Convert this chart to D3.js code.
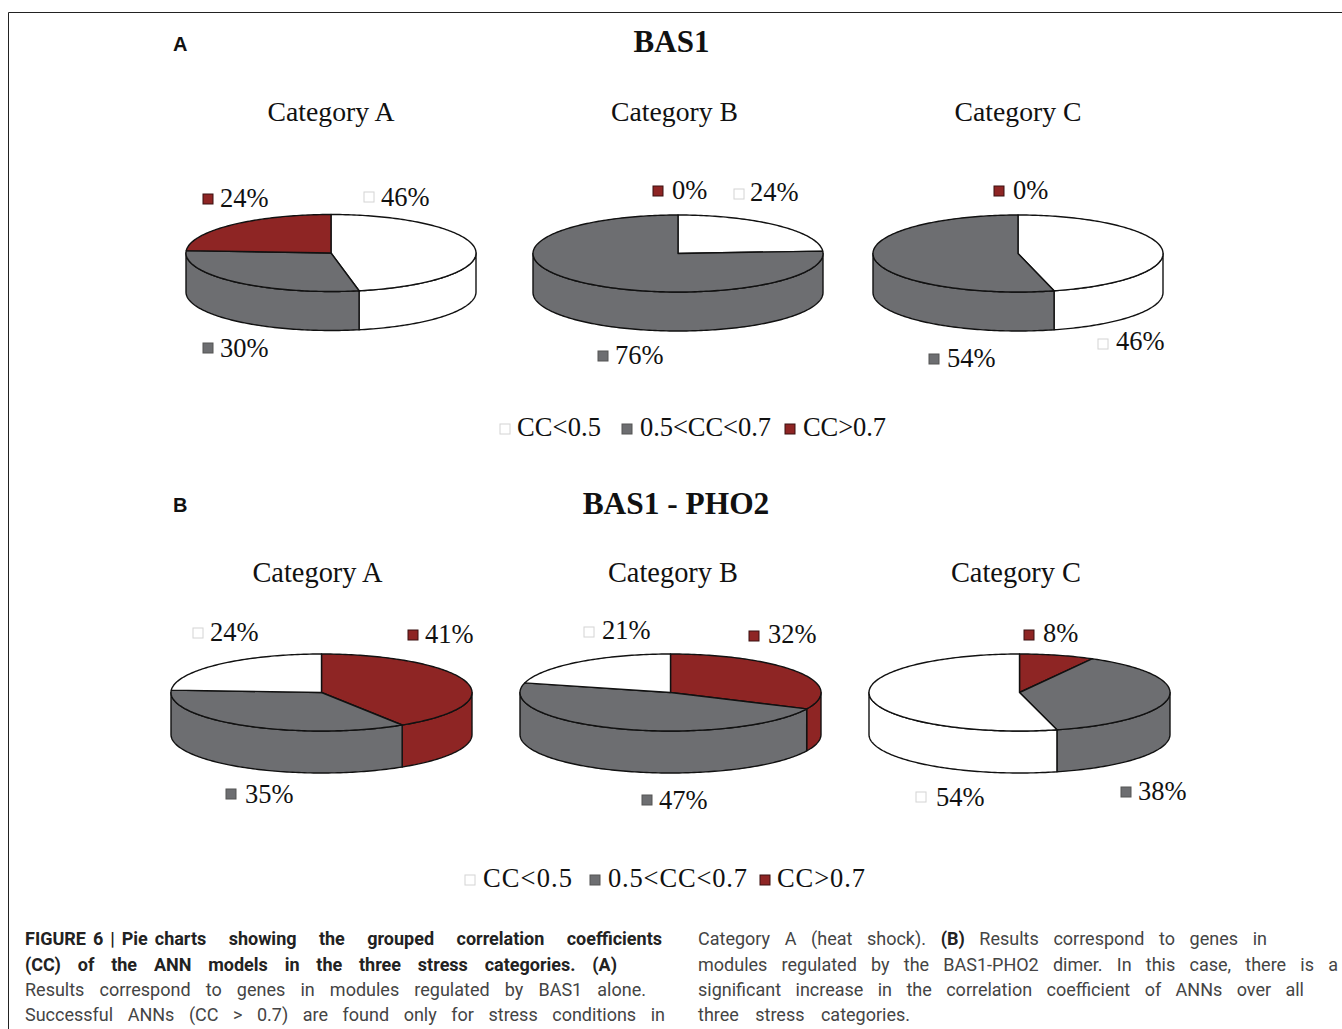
<!DOCTYPE html>
<html><head><meta charset="utf-8">
<script src="https://cdn.jsdelivr.net/npm/d3@7"></script>
<style>html,body{margin:0;padding:0;background:#fff;overflow:hidden}svg{display:block}</style>
</head><body><svg id="c" width="1342" height="1029"></svg>
<script>
// ---- data ----
const classes = ["CC<0.5", "0.5<CC<0.7", "CC>0.7"];
const panelTitles = ["BAS1", "BAS1 - PHO2"];
const panelLetters = ["A", "B"];
const categories = ["Category A", "Category B", "Category C"];
const bas1A = [46, 30, 24];
const bas1ADrawn = [46.9, 29.1, 24];   // slice sizes; the printed labels are rounded differently
const bas1B = [24, 76, 0];
const bas1C = [46, 54, 0];
const phoA = [24, 35, 41];
const phoB = [21, 47, 32];
const phoC = [54, 38, 8];

// ---- layout & style (separate from data) ----
const fills = ["#ffffff", "#6d6e71", "#8e2524"];
const keyStroke = ["#d4d4d4", "#555", "#3a1010"];
const serif = "'Liberation Serif', serif";
const pies = [
  {v: bas1A, s: bas1ADrawn, order: [0,1,2], cx: 331, cy: 253, rx: 145, ry: 38.5, d: 39, cat: 0, catX: 331, catY: 120.5, catSize: 27.7,
   labs: [[369,197,381,206],[208,348,220,357],[208,199,220,207]]},
  {v: bas1B, order: [0,1,2], cx: 678, cy: 253.5, rx: 145, ry: 38.5, d: 39, cat: 1, catX: 674.5, catY: 120.5, catSize: 27.7,
   labs: [[739,194,750,201],[603,356,615,364],[658,191,672,199]]},
  {v: bas1C, order: [0,1,2], cx: 1018, cy: 253.5, rx: 145, ry: 38.5, d: 39, cat: 2, catX: 1018, catY: 120.5, catSize: 27.7,
   labs: [[1103,344,1116,350],[934,359,947,367],[999,191,1013,199]]},
  {v: phoA, order: [2,1,0], cx: 321.5, cy: 692.5, rx: 150.5, ry: 38.5, d: 42, cat: 0, catX: 317.5, catY: 582, catSize: 28.4,
   labs: [[198,633,210,641],[231,794,245,803],[413,635,425,643]]},
  {v: phoB, order: [2,1,0], cx: 670.5, cy: 692.5, rx: 150.5, ry: 38.5, d: 42, cat: 1, catX: 673, catY: 582, catSize: 28.4,
   labs: [[589,632,602,639],[647,800,659,809],[754,636,768,643]]},
  {v: phoC, order: [2,1,0], cx: 1019.5, cy: 692.5, rx: 150.5, ry: 38.5, d: 42, cat: 2, catX: 1016, catY: 582, catSize: 28.4,
   labs: [[921,797,936,806],[1126,792,1138,800],[1029,635,1043,642]]}
];
const legends = [
  {y: 436, items: [[505,517,84],[627,640,131],[790,803,83]]},
  {y: 887, items: [[470,483,89],[595,608,139],[765,777,88]]}
];
const titles = [{x:671.5,y:52,size:31},{x:676,y:514,size:31.4}];
const letters = [{x:173,y:51},{x:173,y:512}];
const captionLines = [
  {x:25, y:945, w:637, lead:"FIGURE 6 | Pie ", parts:[["charts showing the grouped correlation coefficients",1]]},
  {x:25, y:971, w:592, parts:[["(CC) of the ANN models in the three stress categories. (A)",1]]},
  {x:25, y:996, w:621, parts:[["Results correspond to genes in modules regulated by BAS1 alone.",0]]},
  {x:25, y:1021, w:640, parts:[["Successful ANNs (CC > 0.7) are found only for stress conditions in",0]]},
  {x:698, y:945, w:569, parts:[["Category A (heat shock). ",0],["(B)",1],[" Results correspond to genes in",0]]},
  {x:698, y:971, w:640, parts:[["modules regulated by the BAS1-PHO2 dimer. In this case, there is a",0]]},
  {x:698, y:996, w:606, parts:[["significant increase in the correlation coefficient of ANNs over all",0]]},
  {x:698, y:1021, w:212, parts:[["three stress categories.",0]]}
];

const svg = d3.select("#c");
svg.append("path").attr("d","M1342 12.5H8.5V1029").attr("fill","none").attr("stroke","#222").attr("stroke-width",1);

function pt(p, a, dy=0){ return [p.cx + p.rx*Math.sin(a), p.cy - p.ry*Math.cos(a) + dy]; }
function arcPts(p, a0, a1, dy=0){
  const n = Math.max(2, Math.ceil((a1-a0)/0.02)), s = d3.scaleLinear().domain([0,n]).range([a0,a1]);
  return d3.range(n+1).map(i => pt(p, s(i), dy));
}
const line = d3.line();

pies.forEach(p => {
  const g = svg.append("g");
  const pie = d3.pie().sort(null).value(d => d.value);
  const sizes = p.s || p.v;
  const arcs = pie(p.order.map(i => ({value:sizes[i], cls:i}))).filter(a => a.value > 0);
  const lo = Math.PI/2, hi = Math.PI*1.5;
  arcs.forEach(a => {
    const a0 = Math.max(a.startAngle, lo), a1 = Math.min(a.endAngle, hi);
    if (a1 <= a0) return;
    const top = arcPts(p, a0, a1), bot = arcPts(p, a0, a1, p.d).reverse();
    g.append("path").attr("d", line(top.concat(bot)) + "Z")
      .attr("fill", fills[a.data.cls]).attr("stroke","#111").attr("stroke-width",1.4).attr("stroke-linejoin","round");
  });
  arcs.forEach(a => {
    const pts = [[p.cx,p.cy]].concat(arcPts(p, a.startAngle, a.endAngle));
    g.append("path").attr("d", line(pts) + "Z")
      .attr("fill", fills[a.data.cls]).attr("stroke","#111").attr("stroke-width",1.4).attr("stroke-linejoin","round");
  });
  svg.append("text").text(categories[p.cat]).attr("x",p.catX).attr("y",p.catY)
    .attr("text-anchor","middle").attr("font-family",serif).attr("font-size",p.catSize).attr("fill","#111");
  p.v.forEach((val,i) => {
    const [kx,ky,tx,ty] = p.labs[i];
    if (val === 0 && i !== 2) return;
    svg.append("rect").attr("x",kx-5).attr("y",ky-5).attr("width",10).attr("height",10)
      .attr("fill",fills[i]).attr("stroke",keyStroke[i]).attr("stroke-width",1);
    svg.append("text").text(val+"%").attr("x",tx).attr("y",ty)
      .attr("font-family",serif).attr("font-size",26.5).attr("fill","#111");
  });
});

legends.forEach(l => {
  l.items.forEach((it,i) => {
    svg.append("rect").attr("x",it[0]-5).attr("y",l.y-12).attr("width",10).attr("height",10)
      .attr("fill",fills[i]).attr("stroke",keyStroke[i]);
    svg.append("text").text(classes[i]).attr("x",it[1]).attr("y",l.y)
      .attr("textLength",it[2]).attr("lengthAdjust","spacing")
      .attr("font-family",serif).attr("font-size",26.5).attr("fill","#111");
  });
});

panelTitles.forEach((t,i) => {
  svg.append("text").text(t).attr("x",titles[i].x).attr("y",titles[i].y).attr("text-anchor","middle")
    .attr("font-family",serif).attr("font-weight","bold").attr("font-size",titles[i].size).attr("fill","#111");
  svg.append("text").text(panelLetters[i]).attr("x",letters[i].x).attr("y",letters[i].y)
    .attr("font-family","'Liberation Sans', sans-serif").attr("font-weight","bold").attr("font-size",20).attr("fill","#111");
});

captionLines.forEach(c => {
  const t = svg.append("text").attr("x",c.x).attr("y",c.y).attr("font-family","'Roboto', sans-serif").attr("font-size",18).style("white-space","pre");
  let width = c.w;
  if (c.lead) {
    const l = t.append("tspan").text(c.lead).attr("font-weight","bold").attr("fill","#222").attr("word-spacing",2.5);
    width -= l.node().getComputedTextLength();
  }
  const body = t.append("tspan");
  c.parts.forEach(([s,b]) => body.append("tspan").text(s).attr("font-weight",b?"bold":"normal").attr("fill",b?"#222":"#444"));
  const nSpaces = c.parts.map(q=>q[0]).join("").split(" ").length-1;
  const w = body.node().getComputedTextLength();
  body.attr("word-spacing", (width-w)/nSpaces);
});
</script></body></html>
